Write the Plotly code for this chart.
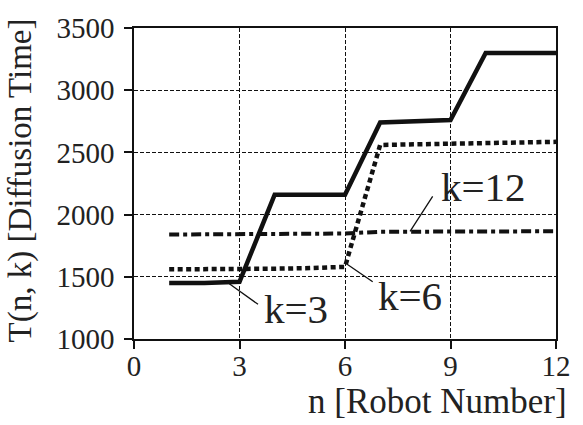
import plotly.graph_objects as go

n = [1, 2, 3, 4, 5, 6, 7, 8, 9, 10, 11, 12]
t_k3 = [1450, 1450, 1460, 2160, 2160, 2160, 2740, 2750, 2760, 3300, 3300, 3300]
t_k6 = [1560, 1560, 1565, 1565, 1570, 1580, 2560, 2565, 2570, 2575, 2580, 2585]
t_k12 = [1840, 1840, 1842, 1845, 1845, 1848, 1862, 1862, 1864, 1864, 1865, 1866]

x_ticks = [0, 3, 6, 9, 12]
y_ticks = [1000, 1500, 2000, 2500, 3000, 3500]

labels = ["k=3", "k=6", "k=12"]
label_pos = [(4.6, 1245), (7.85, 1345), (9.95, 2225)]
leader_tip = [(2.71, 1444), (6.05, 1603), (7.85, 1865)]
leader_tail = [(3.57, 1270), (6.83, 1452), (8.52, 2159)]

FONT = "Liberation Serif"

fig = go.Figure()
fig.add_trace(go.Scatter(x=n, y=t_k12, mode="lines",
                         line=dict(color="#111", width=4, dash="10px,4px,4px,4px")))
fig.add_trace(go.Scatter(x=n, y=t_k6, mode="lines",
                         line=dict(color="#111", width=4.5, dash="5px,3.5px")))
fig.add_trace(go.Scatter(x=n, y=t_k3, mode="lines",
                         line=dict(color="#111", width=4.5)))

annotations = []
for lab, (lx, ly), (tx, ty), (ex, ey) in zip(labels, label_pos, leader_tip, leader_tail):
    annotations.append(dict(x=tx, y=ty, ax=ex, ay=ey, xref="x", yref="y",
                            axref="x", ayref="y", text="", showarrow=True,
                            arrowhead=0, arrowwidth=1.3, arrowcolor="#111"))
    annotations.append(dict(x=lx, y=ly, xref="x", yref="y", text=lab,
                            showarrow=False,
                            font=dict(family=FONT, size=41, color="#222")))

annotations.append(dict(x=1.03, y=-0.2, xref="paper", yref="paper",
                        text="n [Robot Number]", showarrow=False,
                        xanchor="right", yanchor="middle",
                        font=dict(family=FONT, size=35, color="#222")))
annotations.append(dict(x=-0.27, y=0.51, xref="paper", yref="paper",
                        text="T(n, k) [Diffusion Time]", showarrow=False,
                        textangle=-90, xanchor="center", yanchor="middle",
                        font=dict(family=FONT, size=33, color="#222")))

axis_common = dict(showline=True, linecolor="#111", linewidth=1.5, mirror=True,
                   showgrid=True, gridcolor="#111", gridwidth=1, griddash="4px,2px",
                   tickcolor="#111", tickwidth=1.5,
                   zeroline=False,
                   tickfont=dict(family=FONT, size=29, color="#222"))

fig.update_layout(
    width=583, height=425,
    margin=dict(l=134, r=15, t=24, b=86),
    paper_bgcolor="white", plot_bgcolor="white",
    showlegend=False,
    annotations=annotations,
    xaxis=dict(range=[0, 12], tickvals=x_ticks, ticks="",
               minor=dict(tickvals=x_ticks, ticks="outside", ticklen=8,
                          tickcolor="#111", tickwidth=1.5, showgrid=False),
               **axis_common),
    yaxis=dict(range=[1000, 3500], tickvals=y_ticks, ticks="outside", ticklen=8,
               ticklabelstandoff=4, **axis_common),
)

fig.write_html("out.html")
